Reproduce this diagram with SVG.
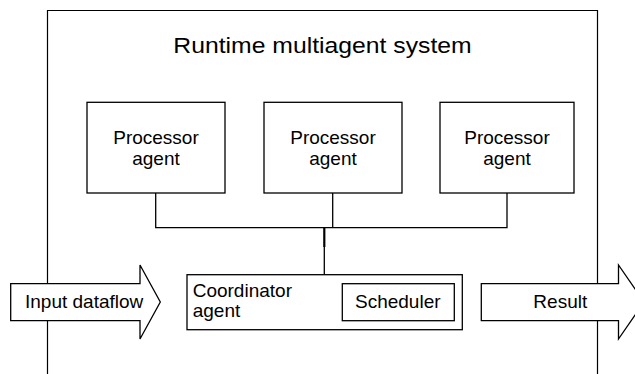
<svg xmlns="http://www.w3.org/2000/svg" width="635" height="374" viewBox="0 0 635 374">
<style>
.box{fill:#fff;stroke:#000;stroke-width:1.3}
.ln{fill:none;stroke:#000;stroke-width:1.3}
text{font-family:"Liberation Sans",Arial,sans-serif;font-size:19px;fill:#000}
.c{text-anchor:middle}
</style>
<rect width="635" height="374" fill="#fff"/>
<g id="frame">
<path d="M47.5,374 V10.5 H597.5 V374" fill="none" stroke="#000" stroke-width="1.2"/>
<text x="173.3" y="53.3" style="font-size:21.5px" textLength="298.4" lengthAdjust="spacingAndGlyphs">Runtime multiagent system</text>
</g>
<g id="connectors">
<path class="ln" d="M155.7,193 V227.7 H507 V193 M332.7,193 V227.7"/>
<path d="M324.3,227.7 V247" stroke="#000" stroke-width="2.2" fill="none"/>
<path class="ln" d="M324.3,247 V274.7"/>
</g>
<g id="processor1">
<rect class="box" x="87" y="102.3" width="138" height="90.7"/>
<text class="c" x="156" y="144.3">Processor</text>
<text class="c" x="156" y="164.5">agent</text>
</g>
<g id="processor2">
<rect class="box" x="264" y="102.3" width="138" height="90.7"/>
<text class="c" x="333" y="144.3">Processor</text>
<text class="c" x="333" y="164.5">agent</text>
</g>
<g id="processor3">
<rect class="box" x="440" y="102.3" width="134" height="90.7"/>
<text class="c" x="507" y="144.3">Processor</text>
<text class="c" x="507" y="164.5">agent</text>
</g>
<g id="coordinator">
<rect class="box" x="187" y="274.7" width="275.3" height="55"/>
<text x="192.7" y="296.7">Coordinator</text>
<text x="192.7" y="316.7">agent</text>
</g>
<g id="scheduler">
<rect class="box" x="342.3" y="283.7" width="112" height="37"/>
<text x="355" y="307.7">Scheduler</text>
</g>
<g id="input">
<path class="box" d="M10.7,283.7 H140 V265 L160.3,302 L140,339 V320.7 H10.7 Z"/>
<text x="25" y="307.7">Input dataflow</text>
</g>
<g id="result">
<path class="box" d="M481.3,283.7 H618.5 V265 L644,302 L618.5,339 V320.7 H481.3 Z"/>
<text class="c" x="560.3" y="307.7">Result</text>
</g>
</svg>
